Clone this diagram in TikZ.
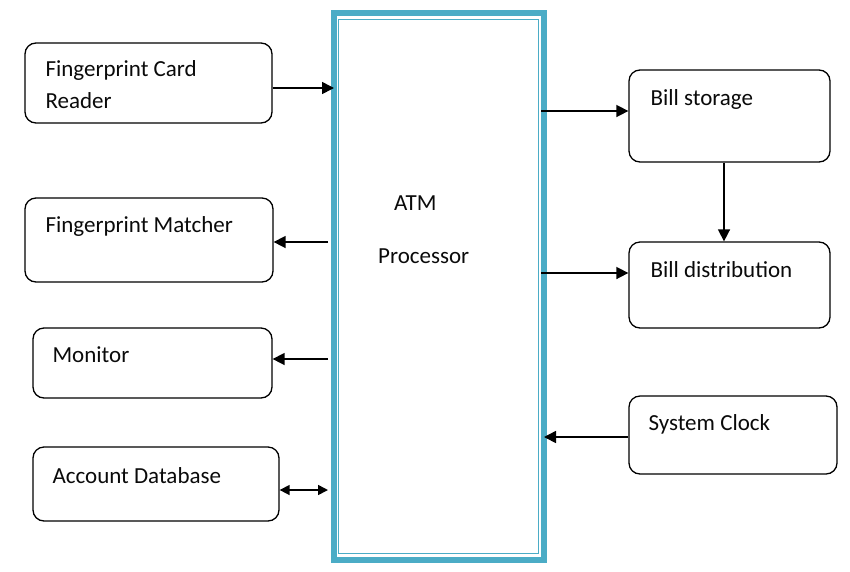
\documentclass[tikz,border=0pt]{standalone}
\usepackage{fontspec}
\setmainfont{Carlito}
\usetikzlibrary{arrows.meta, positioning, calc}
\definecolor{cAqua}{HTML}{4BACC6}
\definecolor{cText}{HTML}{0A0A0A}
\tikzset{
  unitbox/.style={
    draw=black, rounded corners=11pt, line width=1.3pt,
    minimum width=#1, inner sep=0pt,
  },
  lbl/.style={
    font=\fontsize{23}{32}\selectfont, text=cText,
    inner sep=0pt, anchor=base west, align=left,
  },
  arw/.style={-{Triangle[length=12pt, width=12pt]}, line width=1.6pt},
  darw/.style={{Triangle[length=10pt, width=10pt]}-{Triangle[length=10pt, width=10pt]}, line width=1.6pt},
}

\begin{document}
\begin{tikzpicture}[x=1pt, y=-1pt]
  \useasboundingbox (0,0) rectangle (850,571);

  % Processor block with double border
  \node[draw=cAqua, line width=6pt, outer sep=0pt, minimum width=210pt,
        minimum height=547pt, inner sep=0pt] (proc) at (439,286.5) {};
  \draw[cAqua, line width=1.4pt] ([shift={(4.7pt,-6.5pt)}]proc.north west)
    rectangle ([shift={(-5.5pt,6.5pt)}]proc.south east);
  \node[lbl] (atm) at (394,210) {ATM};
  \node[lbl] (procname) at (378,263) {Processor};

  % Left side units
  \node[unitbox=247pt, minimum height=80pt] (reader) at (148.5,83) {};
  \node[unitbox=248pt, minimum height=84pt] (matcher) at (149,240) {};
  \node[unitbox=239pt, minimum height=70pt] (monitor) at (152.5,363) {};
  \node[unitbox=246pt, minimum height=74pt] (accdb) at (156,484) {};

  % Right side units
  \node[unitbox=201pt, minimum height=92pt] (storage) at (729.5,116) {};
  \node[unitbox=201pt, minimum height=86pt] (distrib) at (729.5,285) {};
  \node[unitbox=208pt, minimum height=78pt] (clock) at (733,435) {};

  % Unit texts (base = last line)
  \node[lbl] (reader-t) at ([shift={(21pt,-66pt)}]reader.north west) {Fingerprint Card\\Reader};
  \node[lbl] (matcher-t) at ([shift={(21pt,-35pt)}]matcher.north west) {Fingerprint Matcher};
  \node[lbl] (monitor-t) at ([shift={(20pt,-35pt)}]monitor.north west) {Monitor};
  \node[lbl] (accdb-t) at ([shift={(20pt,-37pt)}]accdb.north west) {Account Database};
  \node[lbl] (storage-t) at ([shift={(22pt,-36pt)}]storage.north west) {Bill storage};
  \node[lbl] (distrib-t) at ([shift={(22pt,-36pt)}]distrib.north west) {Bill distribution};
  \node[lbl] (clock-t) at ([shift={(20pt,-35pt)}]clock.north west) {System Clock};

  % Connections
  \draw[arw] ([yshift=-5pt]reader.east) -- ([yshift=-5pt]reader.east -| proc.west);
  \draw[arw, shorten <=6pt] ([yshift=-2pt]matcher.east -| proc.west) -- ([yshift=-2pt]matcher.east);
  \draw[arw, shorten <=6pt] ([yshift=4pt]monitor.east -| proc.west) -- ([yshift=4pt]monitor.east);
  \draw[darw, shorten >=6pt] ([yshift=-6pt]accdb.east) -- ([yshift=-6pt]accdb.east -| proc.west);
  \draw[arw, shorten <=-3pt] ([yshift=5pt]storage.west -| proc.east) -- ([yshift=5pt]storage.west);
  \draw[arw, shorten <=-3pt] ([yshift=12pt]distrib.west -| proc.east) -- ([yshift=12pt]distrib.west);
  \draw[arw] ([xshift=-5.5pt]storage.south) -- ([xshift=-5.5pt]storage.south |- distrib.north);
  \draw[arw] ([yshift=-2pt]clock.west) -- ([yshift=-2pt]clock.west -| proc.east);
\end{tikzpicture}
\end{document}
